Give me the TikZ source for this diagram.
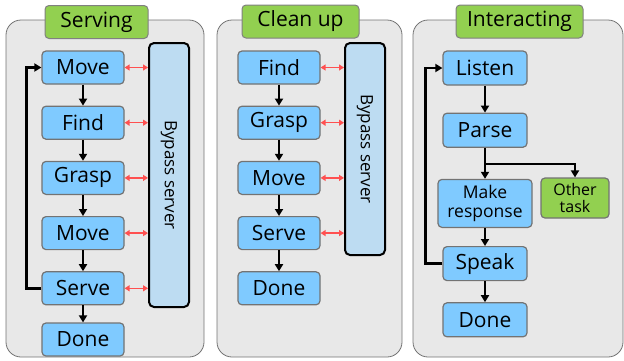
\documentclass[tikz,border=0pt]{standalone}
\usepackage{fontspec}
\setmainfont{Open Sans}
\usetikzlibrary{arrows.meta}
\usetikzlibrary{positioning}
\definecolor{stepblue}{HTML}{7FCAFF}
\definecolor{serverblue}{HTML}{BDDCF2}
\definecolor{titlegreen}{HTML}{92D050}
\definecolor{panelgray}{HTML}{E8E8E8}
\definecolor{linkred}{HTML}{FF5050}
\tikzstyle{panel}=[draw=black!55,fill=panelgray,rounded corners=15pt,line width=0.8pt]
\tikzstyle{title}=[draw=black!50,fill=titlegreen,rounded corners=4pt,line width=1pt,minimum height=33pt,font=\fontsize{21}{24}\selectfont]
\tikzstyle{stepbox}=[draw=black!55,fill=stepblue,rounded corners=4pt,line width=1.2pt,minimum width=82pt,minimum height=33pt,inner sep=1pt,font=\fontsize{21}{24}\selectfont]
\tikzstyle{server}=[draw=black,fill=serverblue,rounded corners=5pt,line width=2pt,minimum width=40pt,font=\fontsize{17}{20}\selectfont]
\tikzstyle{flow}=[line width=2.4pt,-{Triangle[length=7pt,width=8pt]}]
\tikzstyle{link}=[linkred,line width=1.3pt,{Triangle[length=5pt,width=6pt]}-{Triangle[length=5pt,width=6pt]}]

\begin{document}
\begin{tikzpicture}[x=1pt,y=-1pt,node distance=21pt]
\useasboundingbox (0,0) rectangle (624,360);
% panels
\node [panel,minimum width=198pt,minimum height=337pt] (p1) at (105,188.5) {};
\node [panel,minimum width=185pt,minimum height=337pt] (p2) at (309.5,188.5) {};
\node [panel,minimum width=210pt,minimum height=337pt] (p3) at (518,188.5) {};
\node [title,minimum width=103pt] (t1) at (96.5,22) {Serving};
\node [title,minimum width=117pt] (t2) at (300.5,21.5) {Clean up};
\node [title,minimum width=127pt] (t3) at (519.5,21.5) {Interacting};

% serving
\node [stepbox] (s1) at (83,67.5) {Move};
\node [stepbox,below=of s1] (s2) {Find};
\node [stepbox,below=of s2] (s3) {Grasp};
\node [stepbox,below=of s3] (s4) {Move};
\node [stepbox,below=of s4] (s5) {Serve};
\node [stepbox,below=17pt of s5] (s6) {Done};
\node [server,minimum height=264pt] (b1) at (169,175) {\rotatebox{-90}{Bypass server}};
\foreach \i/\j in {s1/s2,s2/s3,s3/s4,s4/s5,s5/s6}
  \draw [flow] (\i) -- (\j);
\foreach \i in {s1,s2,s3,s4,s5}
  \draw [link] (\i.east) -- (b1.west |- \i.east);
\draw [flow] (s5.west) -- ++(-15,0) |- (s1.west);

% clean up
\node [stepbox] (c1) at (279,67.5) {Find};
\node [stepbox,below=of c1] (c2) {Grasp};
\node [stepbox,below=of c2] (c3) {Move};
\node [stepbox,below=of c3] (c4) {Serve};
\node [stepbox,below=of c4] (c5) {Done};
\node [server,minimum height=212pt] (b2) at (365,149) {\rotatebox{-90}{Bypass server}};
\foreach \i/\j in {c1/c2,c2/c3,c3/c4,c4/c5}
  \draw [flow] (\i) -- (\j);
\foreach \i in {c1,c2,c3,c4}
  \draw [link] (\i.east) -- (b2.west |- \i.east);

% interacting
\node [stepbox,minimum width=84pt,minimum height=34pt] (i1) at (485,68) {Listen};
\node [stepbox,minimum width=84pt,minimum height=34pt,below=27pt of i1] (i2) {Parse};
\node [stepbox,minimum width=94pt,minimum height=48pt,align=center,font=\fontsize{17.5}{19}\selectfont,below=31pt of i2] (i3) {Make\\response};
\node [stepbox,minimum width=68pt,minimum height=40pt,align=center,fill=titlegreen,font=\fontsize{16}{17.5}\selectfont] (i4) at (575,198) {Other\\task};
\node [stepbox,minimum width=84pt,minimum height=34pt,below=18pt of i3] (i5) {Speak};
\node [stepbox,minimum width=84pt,minimum height=34pt,below=21pt of i5] (i6) {Done};
\foreach \i/\j in {i1/i2,i2/i3,i3/i5,i5/i6}
  \draw [flow] (\i) -- (\j);
\draw [flow] (i2.south) -- ++(0,16) -| (i4.north);
\draw [flow] (i5.west) -- ++(-17,0) |- (i1.west);
\end{tikzpicture}
\end{document}
